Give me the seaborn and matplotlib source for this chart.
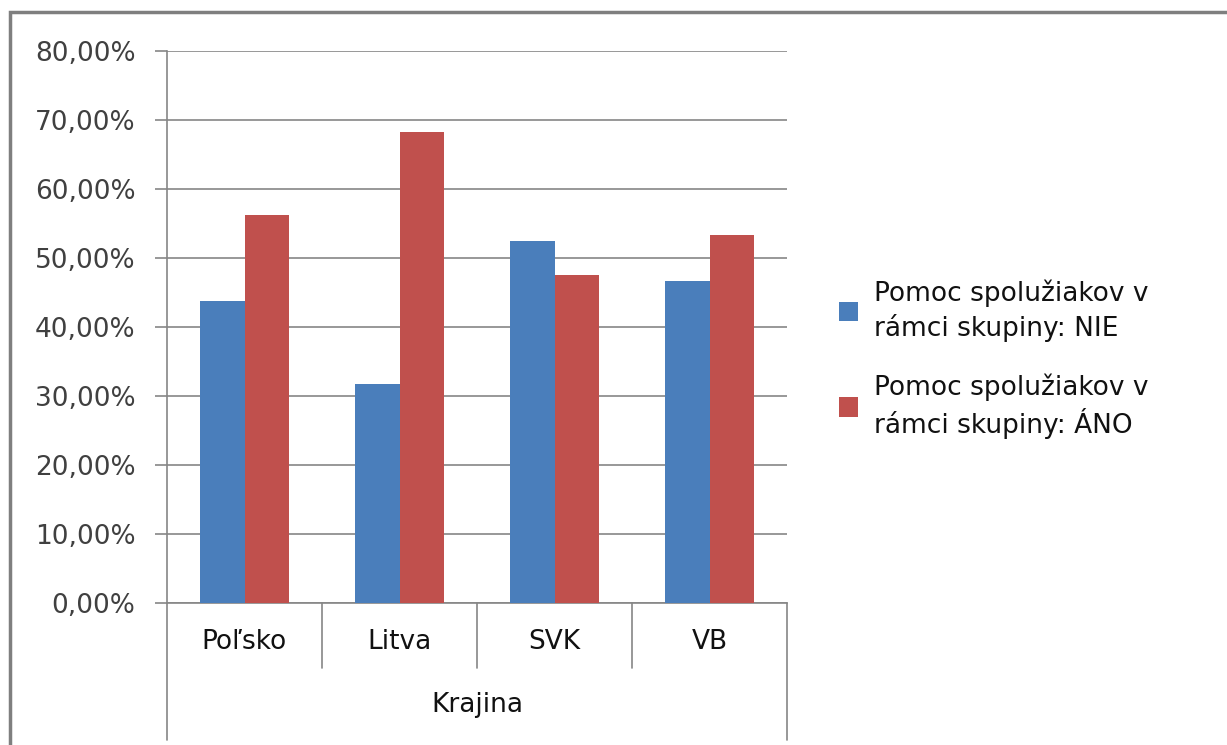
import matplotlib
matplotlib.use("Agg")
import matplotlib.pyplot as plt
import matplotlib.transforms as mtransforms
from matplotlib.patches import Rectangle
from matplotlib.ticker import FuncFormatter, MultipleLocator
import seaborn as sns
import pandas as pd

countries = ["Poľsko", "Litva", "SVK", "VB"]
series_names = ["Pomoc spolužiakov v\nrámci skupiny: NIE",
                "Pomoc spolužiakov v\nrámci skupiny: ÁNO"]
nie_values = [43.8, 31.8, 52.4, 46.7]
ano_values = [56.2, 68.2, 47.6, 53.3]
x_title = "Krajina"

df = pd.DataFrame({
    "Krajina": countries * 2,
    "Séria": [series_names[0]] * 4 + [series_names[1]] * 4,
    "Hodnota": nie_values + ano_values,
})

sns.set_style("white")
plt.rcParams["font.family"] = ["DejaVu Sans"]

W, H = 1227, 745
fig = plt.figure(figsize=(W / 100, H / 100), dpi=100)
ax = fig.add_axes([167 / W, 1 - 603 / H, (787 - 167) / W, (603 - 51) / H])

palette = {series_names[0]: "#4A7EBB", series_names[1]: "#C0504D"}
sns.barplot(data=df, x="Krajina", y="Hodnota", hue="Séria", order=countries,
            hue_order=series_names, palette=palette, width=0.57, gap=0,
            saturation=1, edgecolor="none", linewidth=0, ax=ax, zorder=3)

grid_c = "#868686"
ax.set_ylim(0, 80)
ax.set_xlim(-0.5, 3.5)
ax.yaxis.set_major_locator(MultipleLocator(10))
ax.yaxis.set_major_formatter(FuncFormatter(lambda v, p: f"{v:.2f}".replace(".", ",") + "%"))
ax.grid(axis="y", color=grid_c, linewidth=1.2, zorder=0)
ax.set_axisbelow(True)

for s in ["top", "right"]:
    ax.spines[s].set_visible(False)
ax.spines["left"].set_color(grid_c)
ax.spines["left"].set_linewidth(1.2)
ax.spines["bottom"].set_color(grid_c)
ax.spines["bottom"].set_linewidth(1.2)

ax.tick_params(axis="y", left=True, length=8.6, width=1.2, color=grid_c,
               labelsize=19, labelcolor="#404040", pad=14)
ax.tick_params(axis="x", bottom=False, length=0, labelsize=19,
               labelcolor="#111111", pad=19)
ax.set_xlabel("")
ax.set_ylabel("")

# Category separators below the axis
trans = mtransforms.blended_transform_factory(ax.transData, ax.transAxes)
inner_depth = -(668 - 603) / (603 - 51)
outer_depth = -(740 - 603) / (603 - 51)
for b in [0.5, 1.5, 2.5]:
    ax.plot([b, b], [0, inner_depth], transform=trans, color=grid_c,
            linewidth=1.2, clip_on=False)
for b in [-0.5, 3.5]:
    ax.plot([b, b], [0, outer_depth], transform=trans, color=grid_c,
            linewidth=1.2, clip_on=False)

ax.text(0.5, -(705 - 603) / (603 - 51), x_title, transform=ax.transAxes,
        ha="center", va="center", fontsize=19, color="#111111")

# Legend
handles, labels = ax.get_legend_handles_labels()
leg = ax.legend(handles, labels, loc="upper left",
                bbox_to_anchor=(828 / W, 1 - 269 / H), bbox_transform=fig.transFigure,
                frameon=False, fontsize=19, handlelength=0.75, handleheight=0.75,
                handletextpad=0.6, labelspacing=1.2, borderaxespad=0)
for t in leg.get_texts():
    t.set_color("#111111")
    t.set_linespacing(1.3)

# Outer chart frame
fig.patches.append(Rectangle((10 / W, -0.05), 1.1, 1 - 12 / H + 0.05,
                             transform=fig.transFigure, fill=False,
                             edgecolor="#7F7F7F", linewidth=2.5, zorder=0))

fig.savefig("out.png", dpi=100)
